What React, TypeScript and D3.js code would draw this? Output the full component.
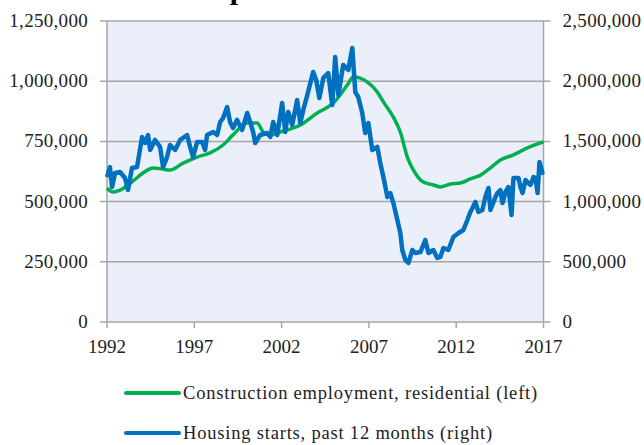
import React from 'react';
import * as d3 from 'd3';

// Construction employment, residential (left axis)
const employmentYears = [
  1992.0, 1992.35, 1992.75, 1993.5, 1994.06, 1994.64, 1995.2, 1995.6, 1996.36, 1997.16,
  1997.9, 1998.65, 1999.22, 2000.03, 2000.6, 2000.95, 2001.35, 2001.92, 2003.07, 2004.04,
  2004.96, 2005.76, 2006.1, 2006.5, 2006.9, 2007.48, 2007.83, 2008.4, 2008.8, 2009.2,
  2009.55, 2010.12, 2010.7, 2011.1, 2011.67, 2012.24, 2012.8, 2013.4, 2013.96, 2014.53,
  2015.28, 2016.08, 2017.0,
];
const employmentValues = [
  556000, 540000, 548000, 586000, 619000, 640000, 635000, 631000, 660000, 685000,
  702000, 735000, 777000, 826000, 826000, 789000, 777000, 789000, 818000, 868000,
  909000, 984000, 1017000, 1013000, 997000, 955000, 914000, 851000, 789000, 685000,
  631000, 581000, 569000, 561000, 573000, 577000, 594000, 610000, 640000, 673000,
  694000, 723000, 748000,
];

// Housing starts, past 12 months (right axis)
const startsYears = [
  1992.0, 1992.17, 1992.29, 1992.46, 1992.75, 1993.03, 1993.2, 1993.43, 1993.72, 1994.01,
  1994.18, 1994.35, 1994.47, 1994.75, 1995.04, 1995.21, 1995.44, 1995.61, 1995.9, 1996.19,
  1996.59, 1996.76, 1996.93, 1997.16, 1997.45, 1997.62, 1997.73, 1998.08, 1998.31, 1998.48,
  1998.65, 1998.88, 1999.05, 1999.22, 1999.45, 1999.74, 2000.03, 2000.2, 2000.37, 2000.49,
  2000.77, 2001.17, 2001.35, 2001.52, 2001.75, 2002.03, 2002.21, 2002.38, 2002.61, 2002.89,
  2003.07, 2003.24, 2003.47, 2003.81, 2003.98, 2004.16, 2004.39, 2004.67, 2004.9, 2005.07,
  2005.25, 2005.53, 2005.82, 2006.05, 2006.22, 2006.39, 2006.62, 2006.79, 2006.97, 2007.19,
  2007.48, 2007.65, 2007.83, 2008.06, 2008.23, 2008.4, 2008.63, 2008.8, 2008.91, 2009.09,
  2009.26, 2009.49, 2009.66, 2009.95, 2010.23, 2010.41, 2010.69, 2010.92, 2011.09, 2011.27,
  2011.55, 2011.84, 2012.13, 2012.41, 2012.64, 2012.81, 2012.93, 2013.1, 2013.27, 2013.5,
  2013.67, 2013.85, 2013.96, 2014.25, 2014.36, 2014.53, 2014.65, 2014.82, 2014.99, 2015.17,
  2015.28, 2015.57, 2015.68, 2015.8, 2015.97, 2016.25, 2016.43, 2016.54, 2016.66, 2016.77,
  2016.94, 2017.0,
];
const startsValues = [
  1204000, 1287000, 1121000, 1238000, 1246000, 1196000, 1096000, 1279000, 1287000, 1537000,
  1487000, 1553000, 1429000, 1512000, 1454000, 1287000, 1370000, 1470000, 1429000, 1512000,
  1553000, 1454000, 1370000, 1495000, 1495000, 1429000, 1553000, 1578000, 1553000, 1661000,
  1694000, 1786000, 1661000, 1611000, 1678000, 1595000, 1736000, 1661000, 1578000, 1487000,
  1553000, 1570000, 1537000, 1661000, 1553000, 1819000, 1578000, 1744000, 1636000, 1844000,
  1653000, 1761000, 1885000, 2077000, 2010000, 1861000, 2027000, 2068000, 1802000, 2201000,
  1885000, 2135000, 2093000, 2276000, 1910000, 1869000, 1736000, 1570000, 1653000, 1429000,
  1454000, 1321000, 1204000, 1038000, 1071000, 988000, 847000, 739000, 598000, 515000,
  490000, 598000, 573000, 581000, 681000, 573000, 598000, 532000, 540000, 615000,
  598000, 706000, 739000, 764000, 847000, 914000, 947000, 997000, 914000, 930000,
  1038000, 1113000, 930000, 1038000, 1071000, 1096000, 988000, 1080000, 1121000, 889000,
  1196000, 1196000, 1121000, 1071000, 1179000, 1138000, 1204000, 1196000, 1071000, 1329000,
  1238000, 1246000,
];

const xTicks = [1992, 1997, 2002, 2007, 2012, 2017];
const leftTicks = [0, 250000, 500000, 750000, 1000000, 1250000];
const rightTicks = [0, 500000, 1000000, 1500000, 2000000, 2500000];

const legendLabels = [
  'Construction employment, residential (left)',
  'Housing starts, past 12 months (right)',
];

const GREEN = '#00B050';
const BLUE = '#0070C0';
const GRID = '#A6A6A6';
const FONT = '"Liberation Serif", "DejaVu Serif", serif';

export default function App() {
  const width = 644;
  const height = 445;
  const left = 107;
  const right = 543.5;
  const top = 21;
  const bottom = 322;

  const x = d3.scaleLinear().domain([1992, 2017]).range([left, right]);
  const yL = d3.scaleLinear().domain([0, 1250000]).range([bottom, top]);
  const yR = d3.scaleLinear().domain([0, 2500000]).range([bottom, top]);
  const fmt = d3.format(',');

  const greenLine = d3
    .line<number>()
    .x((d, i) => x(employmentYears[i]))
    .y((d) => yL(d))
    .curve(d3.curveMonotoneX);

  const blueLine = d3
    .line<number>()
    .x((d, i) => x(startsYears[i]))
    .y((d) => yR(d));

  return (
    <svg
      width={width}
      height={height}
      style={{ position: 'absolute', left: 0, top: 0, background: '#fff' }}
      fontFamily={FONT}
    >
      {/* title sits mostly above the frame, only a descender shows */}
      <text x={79} y={-1} fontSize={30} fontWeight="bold" fill="#000">
        Home Slump
      </text>

      <rect x={left} y={top} width={right - left} height={bottom - top} fill="#EBEFF9" />

      {leftTicks.map((t) => (
        <line key={t} x1={left - 7} x2={right + 7} y1={yL(t)} y2={yL(t)} stroke={GRID} strokeWidth={1.5} />
      ))}
      <line x1={left} x2={left} y1={top} y2={bottom} stroke={GRID} strokeWidth={1.5} />
      <line x1={right} x2={right} y1={top} y2={bottom} stroke={GRID} strokeWidth={1.5} />
      {xTicks.map((t) => (
        <line key={t} x1={x(t)} x2={x(t)} y1={bottom} y2={bottom + 6} stroke={GRID} strokeWidth={1.5} />
      ))}

      {leftTicks.map((t) => (
        <text key={t} x={left - 19} y={yL(t) + 6} textAnchor="end" fontSize={19} fill="#222" letterSpacing={0.3}>
          {fmt(t)}
        </text>
      ))}
      {rightTicks.map((t) => (
        <text key={t} x={right + 19} y={yR(t) + 6} textAnchor="start" fontSize={19} fill="#222" letterSpacing={0.3}>
          {fmt(t)}
        </text>
      ))}
      {xTicks.map((t) => (
        <text key={t} x={x(t)} y={353} textAnchor="middle" fontSize={19} fill="#222">
          {t}
        </text>
      ))}

      <path d={greenLine(employmentValues) ?? ''} fill="none" stroke={GREEN} strokeWidth={3.5} strokeLinejoin="round" />
      <path d={blueLine(startsValues) ?? ''} fill="none" stroke={BLUE} strokeWidth={4.5} strokeLinejoin="round" />

      {legendLabels.map((label, i) => (
        <g key={label} transform={`translate(0, ${393 + i * 40})`}>
          <line x1={126} x2={179} y1={0} y2={0} stroke={i === 0 ? GREEN : BLUE} strokeWidth={4} strokeLinecap="round" />
          <text x={183} y={6} fontSize={18.5} fill="#222" letterSpacing={0.8}>
            {label}
          </text>
        </g>
      ))}
    </svg>
  );
}
